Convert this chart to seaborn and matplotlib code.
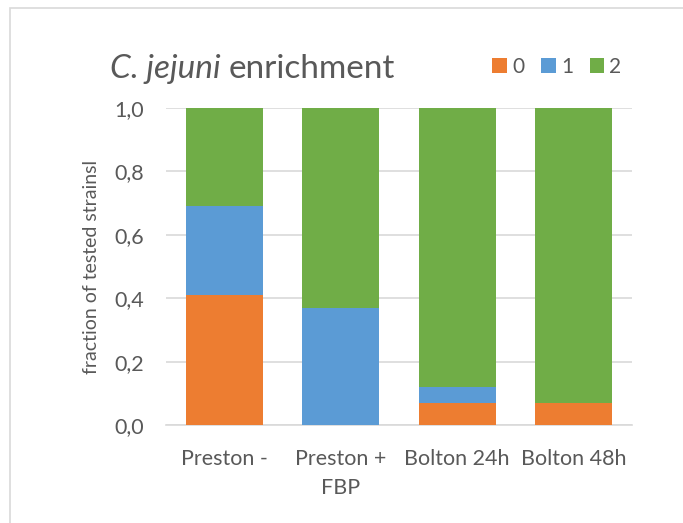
import matplotlib
matplotlib.use("Agg")
import matplotlib.pyplot as plt
import seaborn as sns
import numpy as np
import pandas as pd
from matplotlib.patches import Patch

categories = ["Preston -", "Preston +\nFBP", "Bolton 24h", "Bolton 48h"]
series_names = ["0", "1", "2"]
vals_0 = [0.41, 0.00, 0.07, 0.07]
vals_1 = [0.28, 0.37, 0.05, 0.00]
vals_2 = [0.31, 0.63, 0.88, 0.93]
colors = ["#ED7D31", "#5B9BD5", "#70AD47"]
ytick_vals = [0.0, 0.2, 0.4, 0.6, 0.8, 1.0]
ytick_labels = ["0,0", "0,2", "0,4", "0,6", "0,8", "1,0"]

sns.set_theme(style="white")
plt.rcParams["font.family"] = ["Lato", "DejaVu Sans"]
txt = "#595959"

fig = plt.figure(figsize=(6.83, 5.23), dpi=100)
# chart-area border
fig.add_artist(plt.Rectangle((10 / 683, -0.1), 1.2, (523 - 8) / 523 + 0.1, transform=fig.transFigure,
                             fill=False, edgecolor="#d9d9d9", linewidth=1.2))
ax = fig.add_axes([166 / 683, 1 - 425 / 523, (632 - 166) / 683, (425 - 108) / 523])

df = pd.DataFrame({"cat": categories, "v0": vals_0, "v1": vals_1, "v2": vals_2})
bottom = np.zeros(len(categories))
for col, c in zip(["v0", "v1", "v2"], colors):
    sns.barplot(data=df, x="cat", y=col, bottom=bottom, color=c, width=0.66,
                ax=ax, saturation=1, linewidth=0, zorder=3)
    bottom = bottom + df[col].values

ax.set_ylim(0, 1.0)
ax.set_xlim(-0.5, 3.5)
ax.set_yticks(ytick_vals)
ax.set_yticklabels(ytick_labels)
ax.yaxis.grid(True, color="#d9d9d9", linewidth=1.2, zorder=0)
ax.set_axisbelow(True)
for s in ["top", "right", "left"]:
    ax.spines[s].set_visible(False)
ax.spines["bottom"].set_color("#d9d9d9")
ax.spines["bottom"].set_linewidth(1.2)
ax.tick_params(axis="both", length=0, colors=txt, labelsize=15.5)
ax.tick_params(axis="y", pad=16)
ax.tick_params(axis="x", pad=17)
for lab in ax.get_xticklabels():
    lab.set_linespacing(1.6)
ax.set_xlabel("")
ax.set_ylabel("fraction of tested strainsl", color=txt, fontsize=14, labelpad=10)

t1 = fig.text(110 / 683, 1 - 69 / 523, "C. jejuni", color=txt, fontsize=24, style="italic",
              va="center", ha="left")
fig.canvas.draw()
bb = t1.get_window_extent()
fig.text((bb.x1 + 8) / 683, 1 - 69 / 523, "enrichment", color=txt, fontsize=24,
         va="center", ha="left")

handles = [Patch(facecolor=c, edgecolor="none") for c in colors]
fig.legend(handles, series_names, loc="center", bbox_to_anchor=(557 / 683, 1 - 67 / 523),
           ncol=3, frameon=False, handlelength=0.7, handleheight=0.7, handletextpad=0.25,
           columnspacing=0.8, fontsize=15, labelcolor=txt)

fig.savefig("out.png", dpi=100)
